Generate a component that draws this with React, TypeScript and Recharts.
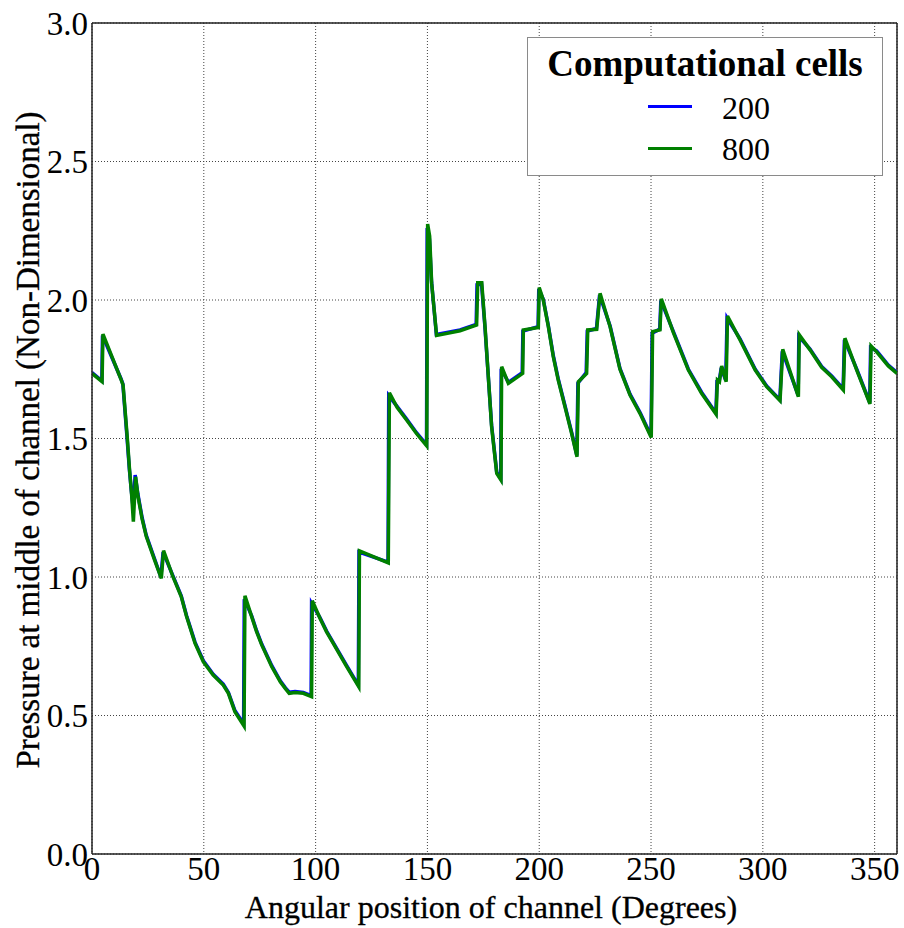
import { CartesianGrid, Legend, Line, LineChart, ReferenceLine, XAxis, YAxis } from "recharts"

// angular position (deg) / pressure pairs
const cells800: [number, number][] = [
  [0, 1.735], [4.5, 1.705], [4.9, 1.877], [13.1, 1.711], [13.9, 1.693], [15.8, 1.5],
  [16.8, 1.386], [17.7, 1.3], [18.5, 1.2], [19.5, 1.362], [20.6, 1.29], [22.4, 1.21], [24.3, 1.146],
  [28.0, 1.061], [31.0, 0.995], [32.0, 1.095], [36.2, 1.001], [39.9, 0.929], [42.3, 0.857],
  [46.1, 0.76], [49.8, 0.694], [54.2, 0.646], [58.7, 0.61], [61.0, 0.58], [63.9, 0.514],
  [68.0, 0.462], [68.4, 0.932], [71.4, 0.857], [73.6, 0.803], [75.9, 0.755], [80.4, 0.676],
  [84.2, 0.622], [86.5, 0.597], [88.2, 0.58], [90.8, 0.583], [94.5, 0.58], [98.2, 0.568],
  [98.5, 0.914], [102, 0.85], [104.9, 0.802], [107.9, 0.76], [113.9, 0.676], [119.3, 0.604],
  [119.6, 1.094], [132.5, 1.051], [133.0, 1.665], [136.5, 1.612], [140.7, 1.567], [145.2, 1.517],
  [149.7, 1.473], [150.1, 2.274], [151.0, 2.23], [151.9, 2.06], [154.1, 1.872], [164.6, 1.889],
  [172.0, 1.91], [172.5, 2.062], [174.3, 2.062], [175.8, 1.9], [178.7, 1.543], [181.0, 1.374],
  [182.9, 1.35], [183.2, 1.759], [186.2, 1.699], [192.6, 1.735], [192.9, 1.892], [199.6, 1.901],
  [200.0, 2.045], [201.8, 2.0], [204.1, 1.903], [206.3, 1.795], [208.5, 1.711], [211.5, 1.615],
  [214.5, 1.518], [216.9, 1.434], [217.5, 1.705], [221.2, 1.735], [221.7, 1.892], [225.7, 1.894],
  [227.2, 2.024], [231.7, 1.903], [236.1, 1.75], [240.6, 1.657], [245.1, 1.59], [250.1, 1.504],
  [250.7, 1.886], [254.0, 1.892], [254.6, 2.004], [260.0, 1.882], [266.7, 1.747], [272.6, 1.663],
  [279.1, 1.588], [279.7, 1.711], [280.6, 1.705], [281.6, 1.762], [283.6, 1.705], [284.2, 1.942],
  [289.8, 1.856], [296.6, 1.747], [301.7, 1.687], [307.7, 1.637], [308.9, 1.822], [315.9, 1.651],
  [316.3, 1.874], [321.1, 1.82], [326.3, 1.757], [330.8, 1.723], [336.0, 1.675], [336.7, 1.862],
  [342.0, 1.747], [347.9, 1.625], [348.4, 1.834], [350.9, 1.813], [356.1, 1.762], [360, 1.735],
]

const cells200: [number, number][] = [
  [0, 1.738], [4.4, 1.708], [4.7, 1.872], [13.0, 1.715], [13.8, 1.697], [15.6, 1.51],
  [16.7, 1.39], [17.6, 1.31], [18.4, 1.25], [19.3, 1.368], [20.5, 1.3], [22.4, 1.215], [24.2, 1.152],
  [28.0, 1.065], [30.8, 1.0], [31.8, 1.09], [36.2, 1.004], [39.9, 0.932], [42.3, 0.86],
  [46.1, 0.764], [49.8, 0.698], [54.2, 0.649], [58.7, 0.613], [61.0, 0.583], [63.9, 0.518],
  [67.8, 0.47], [68.1, 0.92], [71.4, 0.86], [73.6, 0.806], [75.9, 0.758], [80.4, 0.68],
  [84.2, 0.625], [86.5, 0.6], [88.2, 0.584], [90.8, 0.587], [94.5, 0.583], [98.0, 0.572],
  [98.2, 0.905], [102, 0.853], [104.9, 0.805], [107.9, 0.763], [113.9, 0.68], [119.1, 0.61],
  [119.4, 1.09], [132.4, 1.054], [132.7, 1.655], [136.5, 1.615], [140.7, 1.57], [145.2, 1.52],
  [149.6, 1.478], [149.9, 2.26], [150.9, 2.22], [151.8, 2.07], [154.0, 1.876], [164.6, 1.892],
  [171.8, 1.912], [172.2, 2.055], [174.2, 2.058], [175.7, 1.905], [178.7, 1.548], [181.0, 1.378],
  [182.8, 1.355], [183.0, 1.752], [186.2, 1.703], [192.4, 1.738], [192.7, 1.888], [199.5, 1.904],
  [199.8, 2.04], [201.8, 2.003], [204.1, 1.906], [206.3, 1.799], [208.5, 1.715], [211.5, 1.619],
  [214.5, 1.522], [216.8, 1.44], [217.3, 1.7], [221.0, 1.738], [221.5, 1.888], [225.6, 1.897],
  [227.0, 2.018], [231.7, 1.906], [236.1, 1.753], [240.6, 1.66], [245.1, 1.594], [250.0, 1.51],
  [250.5, 1.88], [253.9, 1.895], [254.4, 1.998], [260.0, 1.886], [266.7, 1.75], [272.6, 1.667],
  [279.0, 1.592], [279.5, 1.706], [280.5, 1.708], [281.4, 1.755], [283.4, 1.71], [284.0, 1.935],
  [289.8, 1.86], [296.6, 1.75], [301.7, 1.69], [307.6, 1.64], [308.7, 1.815], [315.8, 1.656],
  [316.1, 1.868], [321.1, 1.823], [326.3, 1.76], [330.8, 1.726], [335.9, 1.68], [336.5, 1.856],
  [342.0, 1.75], [347.8, 1.63], [348.2, 1.828], [350.9, 1.816], [356.1, 1.765], [360, 1.738],
]

const xTicks = [0, 50, 100, 150, 200, 250, 300, 350]
const yTicks = [0, 0.5, 1, 1.5, 2, 2.5, 3]
const legendTitle = "Computational cells"
const seriesNames = ["200", "800"]
const seriesColors = ["#0000ff", "#008000"]
const xLabel = "Angular position of channel (Degrees)"
const yLabel = "Pressure at middle of channel (Non-Dimensional)"

const FONT = '"Liberation Serif", "Times New Roman", serif'

const data200 = cells200.map(([x, y]) => ({ x, y }))
const data800 = cells800.map(([x, y]) => ({ x, y }))

function LegendBox() {
  return (
    <div
      style={{
        position: "relative",
        boxSizing: "border-box",
        width: 356,
        height: 139,
        border: "1.5px solid #8a8a8a",
        background: "#fff",
        fontFamily: FONT,
        color: "#000",
      }}
    >
      <div
        style={{
          position: "absolute",
          left: 0,
          right: 0,
          top: 7,
          textAlign: "center",
          fontSize: 37,
          lineHeight: "37px",
          fontWeight: 700,
          whiteSpace: "nowrap",
        }}
      >
        {legendTitle}
      </div>
      {seriesNames.map((name, i) => (
        <div key={name}>
          <div
            style={{
              position: "absolute",
              left: 120,
              top: 67 + i * 42,
              width: 44,
              height: 3,
              background: seriesColors[i],
            }}
          />
          <div
            style={{
              position: "absolute",
              left: 194,
              top: 54 + i * 41,
              fontSize: 32,
              lineHeight: "32px",
            }}
          >
            {name}
          </div>
        </div>
      ))}
    </div>
  )
}

export default function App() {
  const tick = { fill: "#000", fontSize: 33, fontFamily: FONT }
  return (
    <div style={{ position: "absolute", left: 0, top: 0, width: 904, height: 928, background: "#fff" }}>
      <LineChart width={904} height={928} margin={{ top: 23, right: 7, bottom: 0, left: 0 }}>
        <CartesianGrid stroke="#444" strokeDasharray="1 2" strokeWidth={1} />
        <XAxis
          type="number"
          dataKey="x"
          domain={[0, 360]}
          ticks={xTicks}
          allowDataOverflow
          height={74}
          tick={tick}
          tickLine={false}
          tickSize={0}
          tickMargin={3}
          axisLine={{ stroke: "#222", strokeWidth: 1.5 }}
          label={{
            content: () => (
              <text
                x={491}
                y={918}
                textAnchor="middle"
                fontSize={32}
                fontFamily={FONT}
                fill="#000"
                stroke="#000"
                strokeWidth={0.3}
              >
                {xLabel}
              </text>
            ),
          }}
        />
        <YAxis
          type="number"
          domain={[0, 3]}
          ticks={yTicks}
          width={92}
          tick={tick}
          tickLine={false}
          tickSize={0}
          tickMargin={4}
          tickFormatter={(v: number) => v.toFixed(1)}
          axisLine={{ stroke: "#222", strokeWidth: 1.5 }}
          label={{
            content: () => (
              <text
                x={28}
                y={440}
                transform="rotate(-90 28 440)"
                textAnchor="middle"
                dominantBaseline="central"
                fontSize={33}
                fontFamily={FONT}
                fill="#000"
                stroke="#000"
                strokeWidth={0.3}
              >
                {yLabel}
              </text>
            ),
          }}
        />
        <ReferenceLine y={3} stroke="#222" strokeWidth={1.5} />
        <ReferenceLine x={360} stroke="#222" strokeWidth={1.5} />
        <Line
          data={data200}
          dataKey="y"
          name={seriesNames[0]}
          type="linear"
          stroke={seriesColors[0]}
          strokeWidth={3.5}
          dot={false}
          isAnimationActive={false}
        />
        <Line
          data={data800}
          dataKey="y"
          name={seriesNames[1]}
          type="linear"
          stroke={seriesColors[1]}
          strokeWidth={3.5}
          dot={false}
          isAnimationActive={false}
        />
        <Legend
          layout="vertical"
          align="center"
          verticalAlign="middle"
          wrapperStyle={{ left: 527, top: 37, width: 356, height: 139 }}
          content={() => <LegendBox />}
        />
      </LineChart>
    </div>
  )
}
